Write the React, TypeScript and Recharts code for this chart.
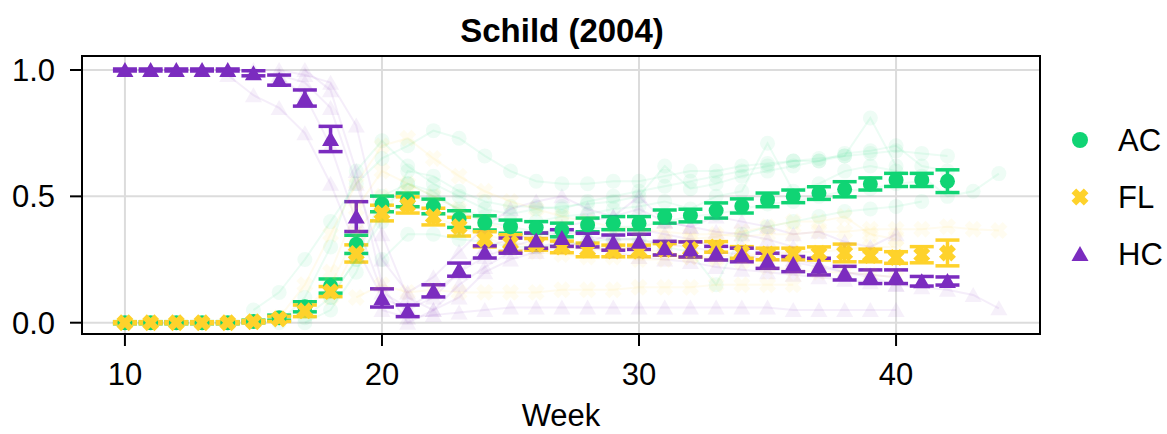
import React from 'react';
import { ComposedChart, Scatter, XAxis, YAxis, CartesianGrid, ErrorBar, ReferenceArea } from 'recharts';

const AC_COLOR = '#10d474';
const FL_COLOR = '#fed22b';
const HC_COLOR = '#7b2cbf';
const FONT = '"Liberation Sans", Arial, sans-serif';

const X_MIN = 8.33;
const X_MAX = 45.6;
const Y_MIN = -0.0447;
const Y_MAX = 1.0554;
const X_TICKS = [10, 20, 30, 40];
const Y_TICKS = [0, 0.5, 1];

const WEEKS = [10, 11, 12, 13, 14, 15, 16, 17, 18, 19, 20, 21, 22, 23, 24, 25, 26, 27, 28, 29, 30, 31, 32, 33, 34, 35, 36, 37, 38, 39, 40, 41, 42];

// group means (AC / FL / HC) and their error half-widths
const AC_MEAN = [0, 0, 0, 0, 0, 0.005, 0.02, 0.063, 0.145, 0.31, 0.47, 0.486, 0.46, 0.41, 0.395, 0.38, 0.377, 0.367, 0.387, 0.394, 0.394, 0.42, 0.424, 0.444, 0.462, 0.486, 0.5, 0.513, 0.528, 0.549, 0.565, 0.565, 0.56];
const AC_ERR = [0.004, 0.004, 0.004, 0.004, 0.004, 0.005, 0.01, 0.02, 0.028, 0.036, 0.031, 0.027, 0.029, 0.033, 0.028, 0.026, 0.023, 0.027, 0.027, 0.026, 0.026, 0.026, 0.025, 0.03, 0.028, 0.027, 0.025, 0.025, 0.03, 0.024, 0.026, 0.026, 0.045];
const FL_MEAN = [0, 0, 0, 0, 0, 0.004, 0.015, 0.047, 0.123, 0.274, 0.434, 0.466, 0.42, 0.38, 0.33, 0.315, 0.31, 0.3, 0.288, 0.284, 0.284, 0.29, 0.29, 0.3, 0.278, 0.272, 0.272, 0.274, 0.276, 0.266, 0.258, 0.269, 0.276];
const FL_ERR = [0.004, 0.004, 0.004, 0.004, 0.004, 0.005, 0.01, 0.023, 0.02, 0.034, 0.031, 0.032, 0.033, 0.037, 0.03, 0.033, 0.023, 0.023, 0.027, 0.023, 0.023, 0.023, 0.03, 0.021, 0.023, 0.023, 0.023, 0.026, 0.035, 0.025, 0.023, 0.032, 0.051];
const HC_MEAN = [1, 1, 1, 1, 1, 0.987, 0.96, 0.889, 0.727, 0.42, 0.098, 0.047, 0.126, 0.21, 0.28, 0.305, 0.325, 0.335, 0.327, 0.317, 0.32, 0.295, 0.29, 0.275, 0.268, 0.245, 0.232, 0.222, 0.196, 0.182, 0.182, 0.164, 0.165];
const HC_ERR = [0.004, 0.004, 0.004, 0.004, 0.004, 0.01, 0.02, 0.032, 0.05, 0.059, 0.036, 0.023, 0.024, 0.026, 0.024, 0.03, 0.03, 0.033, 0.027, 0.03, 0.03, 0.027, 0.03, 0.027, 0.027, 0.03, 0.03, 0.033, 0.027, 0.027, 0.027, 0.019, 0.016];

// faint individual trajectories: [first week, values...]
const AC_TRACES: [number, number[]][] = [
  [15, [0.05, 0.12, 0.25, 0.4, 0.55, 0.65, 0.7, 0.76, 0.73, 0.66, 0.6, 0.56, 0.55, 0.55, 0.56, 0.56, 0.58, 0.6, 0.6, 0.62, 0.63, 0.64, 0.65, 0.66, 0.67, 0.68, 0.67, 0.66]],
  [17, [0.0, 0.05, 0.2, 0.45, 0.55, 0.5, 0.45, 0.42, 0.4, 0.4, 0.42, 0.43, 0.45, 0.46, 0.48, 0.45, 0.5, 0.52, 0.71, 0.52, 0.55, 0.6, 0.62, 0.6, 0.58, 0.5, 0.52, 0.59]],
  [16, [0.0, 0.1, 0.3, 0.6, 0.72, 0.62, 0.55, 0.5, 0.45, 0.43, 0.45, 0.46, 0.47, 0.48, 0.5, 0.62, 0.53, 0.55, 0.58, 0.6, 0.62, 0.64, 0.66, 0.81, 0.62]],
  [20, [0.25, 0.35, 0.35, 0.33, 0.32, 0.3, 0.3, 0.31, 0.32, 0.33, 0.33, 0.3, 0.28, 0.15, 0.35, 0.38, 0.4, 0.42, 0.44, 0.45, 0.46, 0.48]],
  [18, [0.1, 0.25, 0.4, 0.6, 0.58, 0.52, 0.48, 0.46, 0.46, 0.45, 0.48, 0.5, 0.52, 0.54, 0.56, 0.58, 0.6, 0.62, 0.64, 0.64, 0.67, 0.68, 0.7, 0.62, 0.6]],
  [17, [0.02, 0.1, 0.25, 0.5, 0.55, 0.52, 0.44, 0.4, 0.38, 0.36, 0.35, 0.37, 0.38, 0.38, 0.4, 0.42, 0.43, 0.45, 0.47, 0.48, 0.5, 0.52, 0.53, 0.55, 0.56]],
];
const FL_TRACES: [number, number[]][] = [
  [16, [0.02, 0.15, 0.35, 0.55, 0.7, 0.73, 0.65, 0.58, 0.52, 0.48, 0.45, 0.42, 0.4, 0.38, 0.37, 0.36, 0.35, 0.35, 0.34, 0.35, 0.35, 0.36, 0.36, 0.37, 0.37, 0.37, 0.38, 0.37, 0.365]],
  [19, [0.1, 0.15, 0.12, 0.13, 0.12, 0.12, 0.12, 0.12, 0.13, 0.13, 0.13, 0.14, 0.14, 0.14, 0.15, 0.15, 0.15, 0.15]],
  [18, [0.2, 0.45, 0.6, 0.55, 0.5, 0.45, 0.4, 0.36, 0.33, 0.32, 0.3, 0.3, 0.29, 0.28, 0.26, 0.25, 0.24, 0.22, 0.21, 0.2, 0.2, 0.19, 0.18]],
  [17, [0.05, 0.15, 0.35, 0.5, 0.52, 0.45, 0.4, 0.35, 0.32, 0.3, 0.3, 0.29, 0.29, 0.3, 0.32, 0.33, 0.34, 0.36, 0.38, 0.4, 0.4, 0.42, 0.35, 0.33]],
  [18, [0.1, 0.3, 0.42, 0.48, 0.42, 0.38, 0.34, 0.3, 0.28, 0.27, 0.26, 0.26, 0.25, 0.25, 0.26, 0.26, 0.27, 0.27, 0.28, 0.28, 0.29, 0.3, 0.3]],
];
const HC_TRACES: [number, number[]][] = [
  [14, [0.98, 0.9, 0.85, 0.75, 0.55, 0.3, 0.1, 0.05, 0.1, 0.2, 0.3, 0.33, 0.35, 0.38, 0.4, 0.42, 0.45, 0.4, 0.38, 0.36, 0.35, 0.33, 0.3]],
  [15, [1, 1, 0.98, 0.95, 0.78, 0.35, 0.1, 0.05, 0.1, 0.2, 0.25, 0.28, 0.3, 0.32, 0.35, 0.37, 0.35, 0.33, 0.3, 0.3, 0.28, 0.25, 0.23, 0.2, 0.18, 0.15, 0.14, 0.13, 0.11, 0.057]],
  [20, [0.05, 0.02, 0.03, 0.04, 0.05, 0.06, 0.06, 0.06, 0.06, 0.06, 0.06, 0.06, 0.06, 0.06, 0.06, 0.06, 0.05, 0.05, 0.05, 0.05, 0.05]],
  [16, [0.98, 0.95, 0.85, 0.55, 0.25, 0.12, 0.18, 0.28, 0.38, 0.45, 0.48, 0.5, 0.45, 0.42, 0.5, 0.4, 0.38, 0.42, 0.4, 0.38, 0.35, 0.36, 0.32, 0.3, 0.35]],
  [17, [1, 0.92, 0.6, 0.15, 0.0, 0.05, 0.15, 0.22, 0.28, 0.3, 0.32, 0.3, 0.28, 0.26, 0.25, 0.24, 0.22, 0.21, 0.2, 0.19, 0.18, 0.17, 0.16, 0.15]],
  [16, [0.97, 0.9, 0.7, 0.4, 0.12, 0.06, 0.12, 0.2, 0.26, 0.3, 0.33, 0.36, 0.34, 0.33, 0.33, 0.31, 0.3, 0.28, 0.27, 0.25, 0.24, 0.22, 0.2, 0.19, 0.18]],
];

const meanData = (mean: number[], err: number[]) =>
  WEEKS.map((week, i) => ({ week, value: mean[i], err: err[i] }));
const traceData = ([start, values]: [number, number[]]) =>
  values.map((value, i) => ({ week: start + i, value }));

const circleShape = (color: string, opacity = 1) => (p: any) => (
  <circle cx={p.cx} cy={p.cy} r={7.5} fill={color} fillOpacity={opacity} />
);
const xPoints = (cx: number, cy: number) => {
  const a = 8.7, w = 3.3;
  const pts = [[-w, -a], [w, -a], [w, -w], [a, -w], [a, w], [w, w], [w, a], [-w, a], [-w, w], [-a, w], [-a, -w], [-w, -w]];
  const c = Math.SQRT1_2;
  return pts.map(([x, y]) => `${cx + (x - y) * c},${cy + (x + y) * c}`).join(' ');
};
const xShape = (color: string, opacity = 1) => (p: any) => (
  <polygon points={xPoints(p.cx, p.cy)} fill={color} fillOpacity={opacity} />
);
const triPoints = (cx: number, cy: number) =>
  `${cx},${cy - 8} ${cx + 8.5},${cy + 7} ${cx - 8.5},${cy + 7}`;
const triShape = (color: string, opacity = 1) => (p: any) => (
  <polygon points={triPoints(p.cx, p.cy)} fill={color} fillOpacity={opacity} />
);

const LEGEND = [
  { name: 'AC', color: AC_COLOR, kind: 'circle' },
  { name: 'FL', color: FL_COLOR, kind: 'x' },
  { name: 'HC', color: HC_COLOR, kind: 'tri' },
];

const TRACE_FILL = 0.07;
const traceLine = (color: string) => ({ stroke: color, strokeOpacity: 0.08, strokeWidth: 2 });

export default function App() {
  return (
    <div style={{ position: 'absolute', left: 0, top: 0, width: 1167, height: 434, background: '#fff' }}>
      <ComposedChart width={1167} height={434} margin={{ top: 56, right: 127, bottom: 0, left: 0 }}>
        <CartesianGrid stroke="#dcdcdc" strokeWidth={2} />
        <XAxis
          type="number"
          dataKey="week"
          domain={[X_MIN, X_MAX]}
          ticks={X_TICKS}
          allowDataOverflow
          height={100}
          tickSize={12}
          tickMargin={17}
          axisLine={{ stroke: '#000', strokeWidth: 2 }}
          tickLine={{ stroke: '#000', strokeWidth: 2 }}
          tick={{ fill: '#000', fontSize: 31, fontFamily: FONT }}
        />
        <YAxis
          type="number"
          dataKey="value"
          domain={[Y_MIN, Y_MAX]}
          ticks={Y_TICKS}
          allowDataOverflow
          width={82}
          tickSize={12}
          tickMargin={15}
          tickFormatter={(v: number) => v.toFixed(1)}
          axisLine={{ stroke: '#000', strokeWidth: 2 }}
          tickLine={{ stroke: '#000', strokeWidth: 2 }}
          tick={{ fill: '#000', fontSize: 31, fontFamily: FONT }}
        />
        {AC_TRACES.map((t, i) => (
          <Scatter key={`ac-t-${i}`} data={traceData(t)} line={traceLine(AC_COLOR)} shape={circleShape(AC_COLOR, TRACE_FILL)} isAnimationActive={false} />
        ))}
        {FL_TRACES.map((t, i) => (
          <Scatter key={`fl-t-${i}`} data={traceData(t)} line={traceLine(FL_COLOR)} shape={xShape(FL_COLOR, TRACE_FILL)} isAnimationActive={false} />
        ))}
        {HC_TRACES.map((t, i) => (
          <Scatter key={`hc-t-${i}`} data={traceData(t)} line={traceLine(HC_COLOR)} shape={triShape(HC_COLOR, TRACE_FILL)} isAnimationActive={false} />
        ))}
        <Scatter data={meanData(AC_MEAN, AC_ERR)} shape={circleShape(AC_COLOR)} fill={AC_COLOR} isAnimationActive={false}>
          <ErrorBar dataKey="err" direction="y" width={12} strokeWidth={3.5} stroke={AC_COLOR} />
        </Scatter>
        <Scatter data={meanData(FL_MEAN, FL_ERR)} shape={xShape(FL_COLOR)} fill={FL_COLOR} isAnimationActive={false}>
          <ErrorBar dataKey="err" direction="y" width={12} strokeWidth={3.5} stroke={FL_COLOR} />
        </Scatter>
        <Scatter data={meanData(HC_MEAN, HC_ERR)} shape={triShape(HC_COLOR)} fill={HC_COLOR} isAnimationActive={false}>
          <ErrorBar dataKey="err" direction="y" width={12} strokeWidth={3.5} stroke={HC_COLOR} />
        </Scatter>
        <ReferenceArea x1={X_MIN} x2={X_MAX} y1={Y_MIN} y2={Y_MAX} fill="none" fillOpacity={0} stroke="#000" strokeWidth={2} strokeOpacity={1} />
      </ComposedChart>
      <svg width={1167} height={434} style={{ position: 'absolute', left: 0, top: 0, pointerEvents: 'none' }}>
        <text x={562} y={42} textAnchor="middle" fontFamily={FONT} fontSize={33} fontWeight="bold" fill="#000">
          Schild (2004)
        </text>
        <text x={561} y={426} textAnchor="middle" fontFamily={FONT} fontSize={31} fill="#000">
          Week
        </text>
        {LEGEND.map((l, i) => {
          const cy = 140 + i * 57;
          return (
            <g key={l.name}>
              {l.kind === 'circle' && <circle cx={1080} cy={cy} r={8} fill={l.color} />}
              {l.kind === 'x' && <polygon points={xPoints(1080, cy)} fill={l.color} />}
              {l.kind === 'tri' && <polygon points={triPoints(1080, cy)} fill={l.color} />}
              <text x={1118} y={cy + 11} fontFamily={FONT} fontSize={31} fill="#000">
                {l.name}
              </text>
            </g>
          );
        })}
      </svg>
    </div>
  );
}
